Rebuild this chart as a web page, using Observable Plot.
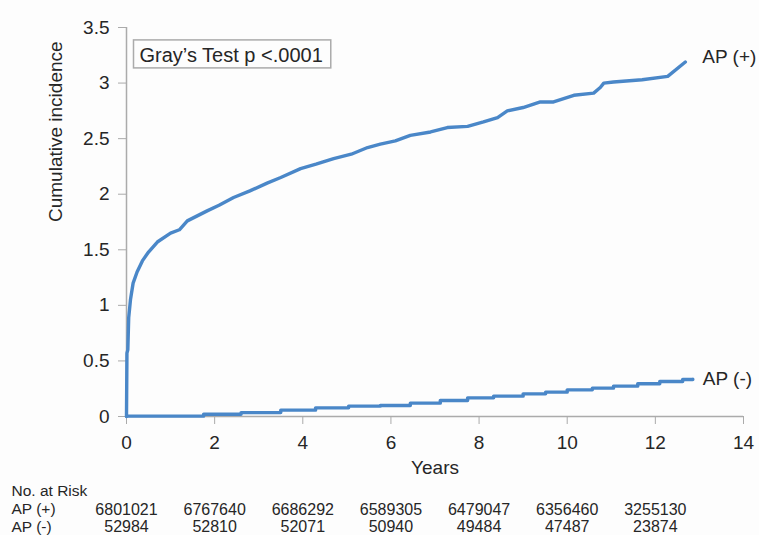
<!DOCTYPE html>
<html>
<head>
<meta charset="utf-8">
<script src="https://cdn.jsdelivr.net/npm/d3@7"></script>
<script src="https://cdn.jsdelivr.net/npm/@observablehq/plot@0.6"></script>
<style>
  html, body { margin: 0; padding: 0; background: #fdfdfd; }
  #chart svg { display: block; }
</style>
</head>
<body>
<div id="chart"></div>
<script>
// AP (+) cumulative incidence (years, %)
const apPosYears = [0, 0.01, 0.03, 0.05, 0.09, 0.15, 0.24, 0.36, 0.5, 0.7, 1.0, 1.2, 1.38, 1.83, 2.1, 2.43, 2.8, 3.19, 3.5, 3.95, 4.3, 4.7, 5.1, 5.47, 5.76, 6.1, 6.44, 6.9, 7.28, 7.74, 8.1, 8.42, 8.64, 9.0, 9.39, 9.69, 10.15, 10.6, 10.75, 10.83, 11.05, 11.7, 12.28, 12.68];
const apPosInc   = [0, 0.57, 0.6, 0.89, 1.05, 1.2, 1.3, 1.4, 1.48, 1.57, 1.65, 1.68, 1.76, 1.85, 1.9, 1.97, 2.03, 2.1, 2.15, 2.23, 2.27, 2.32, 2.36, 2.42, 2.45, 2.48, 2.53, 2.56, 2.6, 2.61, 2.65, 2.69, 2.75, 2.78, 2.83, 2.83, 2.89, 2.91, 2.96, 3.0, 3.01, 3.03, 3.06, 3.19];

// AP (-) cumulative incidence (step points)
const apNegYears = [0, 1.75, 2.6, 3.5, 4.29, 5.04, 5.76, 6.44, 7.12, 7.74, 8.33, 9.0, 9.51, 10.0, 10.57, 11.05, 11.6, 12.1, 12.62, 12.85];
const apNegInc   = [0.003, 0.02, 0.035, 0.057, 0.078, 0.093, 0.099, 0.12, 0.144, 0.168, 0.183, 0.204, 0.219, 0.24, 0.255, 0.273, 0.294, 0.315, 0.333, 0.335];

// Number at risk table
const riskYears = [0, 2, 4, 6, 8, 10, 12];
const riskPos = [6801021, 6767640, 6686292, 6589305, 6479047, 6356460, 3255130];
const riskNeg = [52984, 52810, 52071, 50940, 49484, 47487, 23874];

const xTicks = [0, 2, 4, 6, 8, 10, 12, 14];
const yTicks = [0, 0.5, 1, 1.5, 2, 2.5, 3, 3.5];
const seriesNames = ["AP (+)", "AP (-)"];
const rowLabels = ["No. at Risk", "AP (+)", "AP (-)"];

const pos = apPosYears.map((t, i) => ({t, v: apPosInc[i], s: seriesNames[0]}));
const neg = apNegYears.map((t, i) => ({t, v: apNegInc[i], s: seriesNames[1]}));
const riskRowsPos = riskYears.map((t, i) => ({t, n: riskPos[i]}));
const riskRowsNeg = riskYears.map((t, i) => ({t, n: riskNeg[i]}));

const lineColor = "#4a87c8";
const axisGray = "#ababab";
const textColor = "#262626";
const font = "'Liberation Sans', Arial, sans-serif";
const tableSize = 15.5;

const chart = Plot.plot({
  width: 759,
  height: 535,
  marginLeft: 126,
  marginRight: 16,
  marginTop: 27,
  marginBottom: 119,
  style: {fontFamily: font, fontSize: "19px", color: textColor, background: "#fdfdfd"},
  x: {domain: [0, 14]},
  y: {domain: [0, 3.5]},
  marks: [
    Plot.ruleX([0], {stroke: axisGray, strokeWidth: 1.5}),
    Plot.ruleY([0], {stroke: axisGray, strokeWidth: 1.5}),
    Plot.axisX({ticks: xTicks, tickSize: 8, tickPadding: 11, stroke: axisGray, fill: textColor, label: null, fontSize: 19}),
    Plot.axisY({ticks: yTicks, tickFormat: d => String(d), tickSize: 8, tickPadding: 9, stroke: axisGray, fill: textColor, label: null, fontSize: 19}),
    Plot.line(neg, {x: "t", y: "v", curve: "step-after", stroke: lineColor, strokeWidth: 3.4}),
    Plot.line(pos, {x: "t", y: "v", curve: "linear", stroke: lineColor, strokeWidth: 3.4}),
    Plot.text(pos, Plot.selectLast({x: "t", y: "v", text: "s", textAnchor: "start", dx: 17, dy: -5, fontSize: 19, fill: textColor})),
    Plot.text(neg, Plot.selectLast({x: "t", y: "v", text: "s", textAnchor: "start", dx: 10, dy: 0, fontSize: 19, fill: textColor})),
    // axis titles
    Plot.text(["Years"], {frameAnchor: "bottom", dy: 51, lineAnchor: "middle", fontSize: 19, fill: textColor}),
    Plot.text(["Cumulative incidence"], {frameAnchor: "left", rotate: -90, dx: -71, lineAnchor: "middle", fontSize: 19, fill: textColor}),
    // annotation
    Plot.text(["Gray\u2019s Test p <.0001"], {frameAnchor: "top-left", textAnchor: "start", lineAnchor: "middle", dx: 13, dy: 28, fontSize: 20, fill: textColor, className: "gray-test"}),
    // number at risk table
    Plot.text([rowLabels[0]], {frameAnchor: "bottom-left", textAnchor: "start", lineAnchor: "middle", dx: -115, dy: 75, fontSize: tableSize, fill: textColor}),
    Plot.text([rowLabels[1]], {frameAnchor: "bottom-left", textAnchor: "start", lineAnchor: "middle", dx: -115, dy: 93, fontSize: tableSize, fill: textColor}),
    Plot.text([rowLabels[2]], {frameAnchor: "bottom-left", textAnchor: "start", lineAnchor: "middle", dx: -115, dy: 110.5, fontSize: tableSize, fill: textColor}),
    Plot.text(riskRowsPos, {x: "t", frameAnchor: "bottom", text: d => String(d.n), lineAnchor: "middle", dy: 93, fontSize: tableSize + 0.5, fill: textColor}),
    Plot.text(riskRowsNeg, {x: "t", frameAnchor: "bottom", text: d => String(d.n), lineAnchor: "middle", dy: 110.5, fontSize: tableSize + 0.5, fill: textColor})
  ]
});

document.getElementById("chart").appendChild(chart);

// box around the annotation
const g = chart.querySelector("g.gray-test") || chart.querySelector(".gray-test");
if (g) {
  const t = g.querySelector("text") || g;
  const bb = t.getBBox();
  const rect = document.createElementNS("http://www.w3.org/2000/svg", "rect");
  rect.setAttribute("x", bb.x - 6);
  rect.setAttribute("y", bb.y - 4);
  rect.setAttribute("width", bb.width + 14);
  rect.setAttribute("height", bb.height + 6);
  rect.setAttribute("fill", "#fdfdfd");
  rect.setAttribute("stroke", axisGray);
  rect.setAttribute("stroke-width", 1.5);
  const tr = t.getAttribute("transform");
  if (tr) rect.setAttribute("transform", tr);
  t.parentNode.insertBefore(rect, t);
}
</script>
</body>
</html>
